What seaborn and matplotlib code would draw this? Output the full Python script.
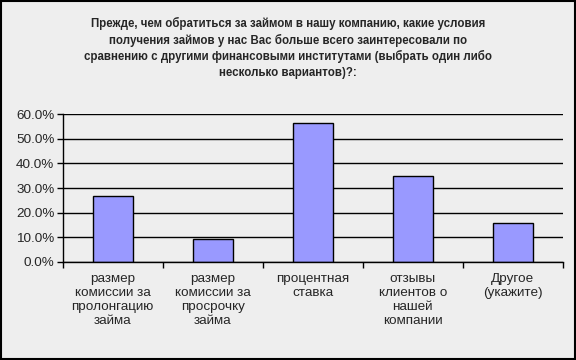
import numpy as np
import pandas as pd
import matplotlib
matplotlib.use("Agg")
import matplotlib.pyplot as plt
import seaborn as sns
from matplotlib.ticker import PercentFormatter, FixedLocator

categories = [
    "размер\nкомиссии за\nпролонгацию\nзайма",
    "размер\nкомиссии за\nпросрочку\nзайма",
    "процентная\nставка",
    "отзывы\nклиентов о\nнашей\nкомпании",
    "Другое\n(укажите)",
]
shares = [0.269, 0.091, 0.563, 0.348, 0.156]
title_text = ("Прежде, чем обратиться за займом в нашу компанию, какие условия\n"
              "получения займов у нас Вас больше всего заинтересовали по\n"
              "сравнению с другими финансовыми институтами (выбрать один либо\n"
              "несколько вариантов)?:")

df = pd.DataFrame({"cat": categories, "share": shares})

sns.set_style("white")
plt.rcParams["font.family"] = ["Liberation Sans", "DejaVu Sans"]

bg = "#EEEEEE"
fig = plt.figure(figsize=(5.76, 3.6), dpi=100, facecolor=bg)
ax = fig.add_axes([0.109, 0.273, 0.868, 0.4095])
ax.set_facecolor(bg)

sns.barplot(data=df, x="cat", y="share", color="#9999FF", width=0.4,
            edgecolor="black", linewidth=1, saturation=1, ax=ax)

ax.set_ylim(0, 0.6)
ax.set_xlim(-0.5, len(categories) - 0.5)
ax.yaxis.set_major_formatter(PercentFormatter(1.0, decimals=1))
ax.set_yticks(np.arange(0, 0.61, 0.1))
ax.yaxis.grid(True, color="black", linewidth=1)
ax.set_axisbelow(True)
ax.set_xlabel("")
ax.set_ylabel("")

# category boundary ticks
ax.xaxis.set_minor_locator(FixedLocator(np.arange(-0.5, len(categories), 1.0)))
ax.tick_params(axis="x", which="major", length=0, pad=8, labelsize=9.7)
ax.tick_params(axis="x", which="minor", length=4, width=1, direction="out", color="black")
ax.tick_params(axis="y", length=4, width=1, direction="out", color="black", labelsize=9.7, pad=2)
ax.xaxis.set_ticks_position("bottom")
ax.yaxis.set_ticks_position("left")
for lab in ax.get_xticklabels():
    lab.set_verticalalignment("top")
    lab.set_linespacing(1.22)

sns.despine(ax=ax, top=True, right=True)
for s in ["left", "bottom"]:
    ax.spines[s].set_color("black")
    ax.spines[s].set_linewidth(1)

fig.text(0.5, 0.952, title_text, ha="center", va="top", fontsize=8.3,
         fontweight="bold", linespacing=1.35)

# outer border
fig.patches.append(plt.Rectangle((0.001, 0.002), 0.997, 0.995, transform=fig.transFigure,
                                 fill=False, edgecolor="black", linewidth=1.5))

fig.savefig("out.png", dpi=100, facecolor=bg)
